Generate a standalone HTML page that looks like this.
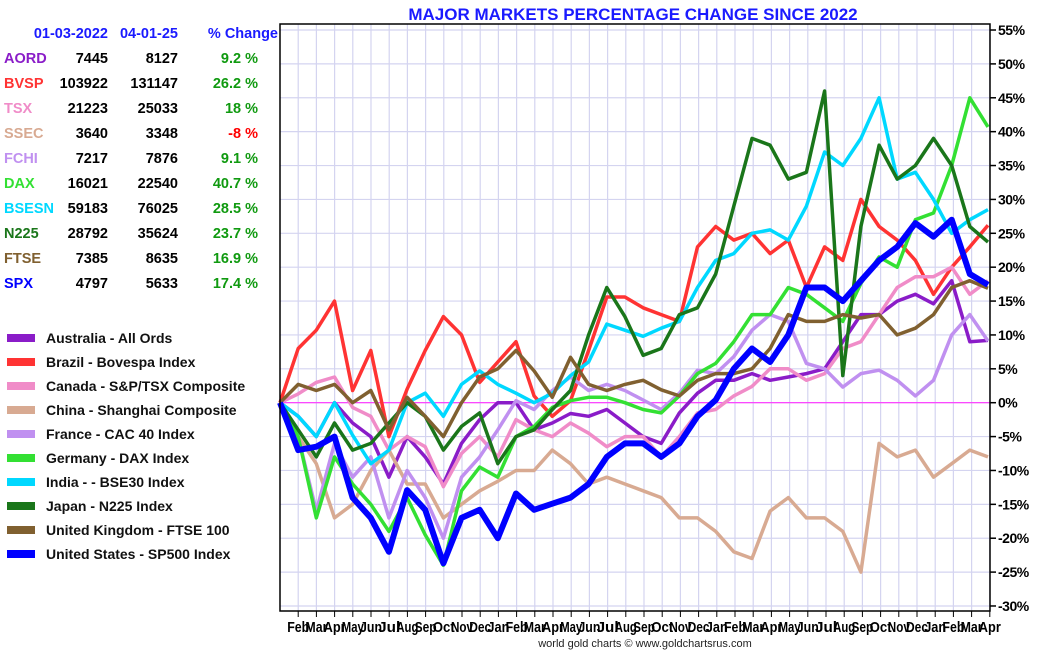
<!DOCTYPE html>
<html><head><meta charset="utf-8"><style>
body{margin:0;background:#fff;font-family:"Liberation Sans",sans-serif;}
#wrap{position:relative;width:1050px;height:650px;overflow:hidden;}
svg text{font-family:"Liberation Sans",sans-serif;}
</style></head><body>
<div id="wrap">
<svg id="chart" width="1050" height="650">
<text x="633" y="20" text-anchor="middle" font-size="17" font-weight="bold" fill="#1a1aff">MAJOR MARKETS PERCENTAGE CHANGE SINCE 2022</text>
<g id="grid"></g>
<g id="series"></g>
<g id="axes"></g>
<g id="table" font-size="14.5" font-weight="bold"></g>
<g id="legend" font-size="14" font-weight="bold"></g>
<text x="645" y="647" text-anchor="middle" font-size="11" fill="#222">world gold charts © www.goldchartsrus.com</text>
</svg>
</div>
<script>
const monthLabels=["Feb","Mar","Apr","May","Jun","Jul","Aug","Sep","Oct","Nov","Dec","Jan","Feb","Mar","Apr","May","Jun","Jul","Aug","Sep","Oct","Nov","Dec","Jan","Feb","Mar","Apr","May","Jun","Jul","Aug","Sep","Oct","Nov","Dec","Jan","Feb","Mar","Apr"];
const yTicks=[55,50,45,40,35,30,25,20,15,10,5,0,-5,-10,-15,-20,-25,-30];
const names=["AORD","BVSP","TSX","SSEC","FCHI","DAX","BSESN","N225","FTSE","SPX"];
const startVals=["7445","103922","21223","3640","7217","16021","59183","28792","7385","4797"];
const endVals=["8127","131147","25033","3348","7876","22540","76025","35624","8635","5633"];
const pctChange=["9.2 %","26.2 %","18 %","-8 %","9.1 %","40.7 %","28.5 %","23.7 %","16.9 %","17.4 %"];
const legendLabels=["Australia - All Ords","Brazil - Bovespa Index","Canada - S&P/TSX Composite","China - Shanghai Composite","France - CAC 40 Index","Germany - DAX Index","India -  - BSE30 Index","Japan - N225 Index","United Kingdom - FTSE 100","United States - SP500 Index"];
const colors=["#8a1cc8","#ff3333","#f08cc8","#d8aa92","#c090f0","#33e033","#00d8ff","#1a761a","#806030","#0000ff"];
const aord=[0,-2,-5,0,-3,-5,-11,-5,-8,-12,-6,-2.5,0,0,-4,-3,-1.6,-2,-1,-3,-5,-6,-1.5,1.4,3.3,3.3,4.3,3.3,3.8,4.3,5,9,13,13,15,16,14.6,18,9,9.2];
const bvsp=[0,8,10.7,15,1.8,7.7,-5,2,7.7,12.7,10,3,6,9,1,-2,0.3,7.7,15.6,15.6,14,13,12,23,26,24,25,22,24,17,23,21,30,26,24,21,16,20,23,26.2];
const tsx=[0,1.3,3,3.8,-0.7,-2,-7,-5,-6.5,-12.4,-7.5,-5,-8,-2.5,-4,-5,-3,-4.5,-6.5,-5,-5,-8,-5,-1.5,-1,1,2.4,5,5,3.3,4.3,8,9,13,17,18.6,18.6,20,16,18];
const ssec=[0,-5,-9,-17,-15,-10,-7,-12,-12,-17,-15,-13,-11.6,-10,-10,-7,-9,-12,-11,-12,-13,-14,-17,-17,-19,-22,-23,-16,-14,-17,-17,-19,-25,-6,-8,-7,-11,-9,-7,-8];
const fchi=[0,-5,-16,-6,-11,-8,-17,-10,-14,-20,-11,-8,-4,0.3,-1,1.8,3.8,1.8,2.7,1.8,0.4,-1,1.4,4.8,4.3,6.8,10.7,13,12,5.8,5,2.3,4.3,4.8,3.3,1,3.3,10,13,9.1];
const dax=[0,-5,-17,-8,-12,-15,-19,-14,-19.5,-24,-13,-9.5,-11,-5,-3.5,-0.7,0.3,0.8,0.8,0,-1,-1.5,1,4.3,5.8,9,13,13,17,16,14,12,17.6,21.5,20,27,28,35,45,40.7];
const bsesn=[0,-2,-5,0,-4.8,-9,-7,0,1.4,-2,2.7,4.7,2.7,1.4,0,1.4,4,6,11.6,10.7,9.8,11,12,17,21,22,25,25.5,24,29,37,35,39,45,33,34,30,25,27,28.5];
const n225=[0,-4,-8,-3,-7,-6,-3,0,-2,-7,-3.5,-1.5,-9,-5,-4,-1,1.8,10,17,12.7,7,8,13,14,19,29,39,38,33,34,46,4,26,38,33,35,39,35,26,23.7];
const ftse=[0,2.7,1.8,2.7,0,1.8,-4,0.8,-2,-5,0,3.8,5,7.7,4.7,0.8,6.7,2.7,1.8,2.7,3.3,1.9,1,3.3,4.3,4.3,5,8,13,12,12,13,12.5,13,10,11,13,17,18,16.9];
const spx=[0,-7,-6.5,-5,-14,-17,-22,-12.9,-15.8,-23.7,-17,-15.8,-20,-13.4,-15.8,-14.9,-14,-12,-8,-6,-6,-8,-6,-2,0.4,5,8,6,10,17,17,15,18,21,23,26.5,24.5,27,19,17.4];
const seriesData=[aord,bvsp,tsx,ssec,fchi,dax,bsesn,n225,ftse,spx];
const widths=[3.5,3.5,3.5,3.5,3.5,3.5,3.5,3.5,3.5,6];

const L=280,R=990,T=24,B=611;
function xScale(m){return L+m*18.2;}
function yScale(p){return 402.7-p*6.776;}
const NS="http://www.w3.org/2000/svg";
function mk(tag,attrs,parent){const e=document.createElementNS(NS,tag);for(const k in attrs)e.setAttribute(k,attrs[k]);parent.appendChild(e);return e;}
const grid=document.getElementById('grid'),axes=document.getElementById('axes'),series=document.getElementById('series');
yTicks.forEach(v=>{
  const y=yScale(v);
  const gl=mk('line',{x1:L,x2:R,y1:y,y2:y,stroke:'#d4d4f0','stroke-width':1.2},grid);
  
  
  const tk=mk('line',{x1:R,x2:R+6,y1:y,y2:y,stroke:'#000','stroke-width':1.5},axes);
  
  
  const t=mk('text',{x:R+8,y:y+5,'font-size':14,'font-weight':'bold',fill:'#000','letter-spacing':'-0.5'},axes);
  t.textContent=v+'%';
  
  
});
monthLabels.forEach((lab,i)=>{
  const x=xScale(i+1);
  const gl=mk('line',{x1:x,x2:x,y1:T,y2:B,stroke:'#d4d4f0','stroke-width':1.2},grid);
  
  
  const tk=mk('line',{x1:x,x2:x,y1:B,y2:B+6,stroke:'#000','stroke-width':1},axes);
  
  
  const t=mk('text',{x:x,y:B+21,'text-anchor':'middle','font-size':15,'font-weight':'bold',fill:'#000',textLength:22,lengthAdjust:'spacingAndGlyphs'},axes);
  t.textContent=lab;
  
  
});
const zl=mk('line',{x1:L,x2:R,y1:yScale(0),y2:yScale(0),stroke:'#ff33ff','stroke-width':1.2},grid);


seriesData.forEach((arr,s)=>{
  const pts=arr.map((v,i)=>xScale(i*(38.9/39)).toFixed(1)+','+yScale(v).toFixed(1)).join(' ');
  const pl=mk('polyline',{points:pts,fill:'none',stroke:colors[s],'stroke-width':widths[s],'stroke-linejoin':'round'},series);
  
  
});
const fr=mk('path',{d:`M${L} ${T} H${R} V${B} H${L} Z`,fill:'none',stroke:'#000','stroke-width':1.5},axes);



const tbl=document.getElementById('table');
[["01-03-2022",108],["04-01-25",178],["% Change",278]].forEach(h=>{
  const t=mk('text',{x:h[1],y:38,'text-anchor':'end',fill:'#1a1aff'},tbl);
  t.textContent=h[0];
  
  
});
names.forEach((n,i)=>{
  const y=63+i*25;
  const a=mk('text',{x:4,y:y,fill:colors[i]},tbl);a.textContent=n;
  
  
  const b=mk('text',{x:108,y:y,'text-anchor':'end',fill:'#000'},tbl);b.textContent=startVals[i];
  
  
  const c=mk('text',{x:178,y:y,'text-anchor':'end',fill:'#000'},tbl);c.textContent=endVals[i];
  
  
  const d=mk('text',{x:258,y:y,'text-anchor':'end',fill:pctChange[i].startsWith('-')?'#ff0000':'#109a10'},tbl);d.textContent=pctChange[i];
  
  
});
const lg=document.getElementById('legend');
legendLabels.forEach((lab,i)=>{
  const y=338+i*24;
  const r=mk('rect',{x:7,y:y-4,width:28,height:8,fill:colors[i]},lg);
  
  
  const t=mk('text',{x:46,y:y+5,fill:'#111'},lg);t.textContent=lab;
  
  
});
</script>
</body></html>
